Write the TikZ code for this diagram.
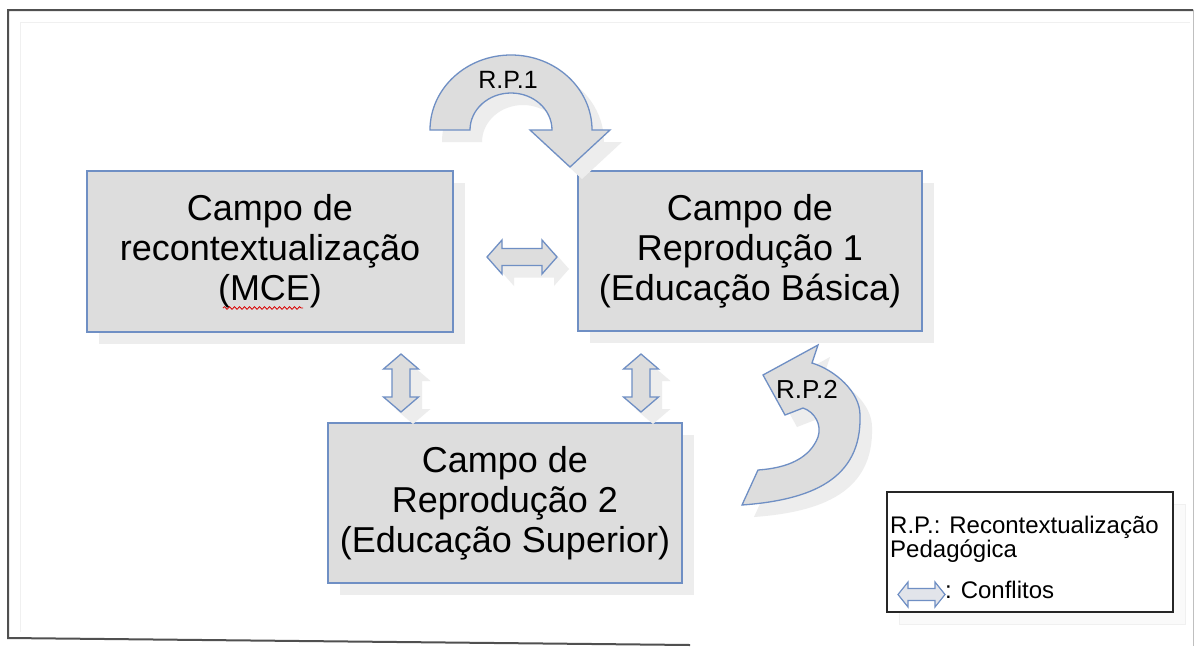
\documentclass[tikz,border=0pt]{standalone}
\usepackage{fontspec}
\setmainfont{Liberation Sans}
\usetikzlibrary{shadows,decorations.pathmorphing}
\definecolor{boxfill}{HTML}{DDDDDD}
\definecolor{boxline}{HTML}{6F8FC4}
\definecolor{shadowgray}{HTML}{EDEDED}
\definecolor{framegray}{HTML}{505050}
\definecolor{legendfill}{HTML}{E2E4EA}
\begin{document}
\begin{tikzpicture}[x=1pt,y=-1pt,
  campo/.style={draw=boxline, line width=1.3pt, fill=boxfill, align=center, inner sep=0pt,
    font=\fontsize{36}{40}\selectfont,
    drop shadow={shadow xshift=12pt, shadow yshift=-12pt, fill=shadowgray, opacity=1}},
  arrowshape/.style={draw=boxline, line width=1.3pt, fill=boxfill, line join=miter},
  shadowshape/.style={fill=shadowgray, draw=none},
  rplabel/.style={anchor=base, inner sep=0pt, font=\fontsize{25}{28}\selectfont},
  legtext/.style={anchor=base west, inner sep=0pt, font=\fontsize{24}{24}\selectfont},
]
\useasboundingbox (0,0) rectangle (1194,646);
\fill[white] (0,0) rectangle (1194,646);

% outer frame
\draw[draw=black!6, line width=1pt] (20,22) -- (1190,22);
\draw[draw=black!6, line width=1pt] (20,22) -- (20,632);
\draw[draw=black!25, line width=1pt] (1193,10) -- (1193,646);
\draw[draw=framegray, line width=2pt] (690,645) -- (8,638) -- (8,10) -- (1193,10);

% boxes
\node[campo, minimum width=366pt, minimum height=161pt] (mce) at (270,251.5)
  {Campo de\\recontextualização\\(MCE)};
\node[campo, minimum width=344pt, minimum height=160pt] (rep1) at (750,251)
  {Campo de\\Reprodução 1\\(Educação Básica)};
\node[campo, minimum width=354pt, minimum height=160pt] (rep2) at (505,503)
  {Campo de\\Reprodução 2\\(Educação Superior)};
\draw[red!85!black, line width=0.8pt, decorate,
  decoration={snake, amplitude=1.3pt, segment length=5pt}] (223,308) -- (303,308);

\foreach \s/\st in {1/shadowshape, 0/arrowshape}{
% horizontal conflict arrow (mce <-> rep1)
\draw[\st, shift={(12*\s,12*\s)}]
  (487,257) -- (502,240) -- (502,248.5) -- (542,248.5) -- (542,240) -- (557,257)
  -- (542,274) -- (542,265.5) -- (502,265.5) -- (502,274) -- cycle;
% vertical left (mce <-> rep2)
\draw[\st, shift={(12*\s,12*\s)}]
  (401,354) -- (418.5,369) -- (410,369) -- (410,397) -- (418.5,397) -- (401,412)
  -- (383.5,397) -- (392,397) -- (392,369) -- (383.5,369) -- cycle;
% vertical right (rep1 <-> rep2)
\draw[\st, shift={(12*\s,12*\s)}]
  (641,354) -- (658.5,369) -- (650,369) -- (650,397) -- (658.5,397) -- (641,412)
  -- (623.5,397) -- (632,397) -- (632,369) -- (623.5,369) -- cycle;
% R.P.1 curved arrow
\draw[\st, shift={(12*\s,12*\s)}]
  (430,130) arc[start angle=180, end angle=360, x radius=81, y radius=75]
  -- (610,130) -- (570,167) -- (530,130) -- (552,130)
  arc[start angle=360, end angle=180, x radius=41, y radius=37] -- cycle;
% R.P.2 curved arrow
\draw[\st, shift={(12*\s,12*\s)}]
  (742,505) .. controls (810,500) and (862,480) .. (860,415)
  .. controls (860,392) and (835,370) .. (812,363)
  -- (818,345) -- (763,375) -- (785,415) -- (803,408)
  .. controls (815,412) and (822,425) .. (818,437)
  .. controls (810,458) and (788,468) .. (758,470) -- cycle;
}

\node[rplabel] (rp1) at (508,88) {R.P.1};
\node[rplabel, font=\fontsize{26}{28}\selectfont] (rp2) at (807,398) {R.P.2};

% legend
\draw[fill=black!2, draw=black!6, line width=1pt] (899,504) rectangle (1185,624);
\node[draw=black!85, line width=1.6pt, fill=white, minimum width=286pt, minimum height=120pt,
  inner sep=0pt] (legend) at (1030,552) {};
\node[legtext] (leg1) at (890,533) {R.P.: Recontextualização};
\node[legtext] (leg2) at (890,557) {Pedagógica};
\draw[draw=boxline, line width=1.2pt, fill=legendfill]
  (898,594.5) -- (908,582) -- (908,588.5) -- (935,588.5) -- (935,582) -- (945,594.5)
  -- (935,607) -- (935,600.5) -- (908,600.5) -- (908,607) -- cycle;
\node[legtext] (leg3) at (945,598) {: Conflitos};
\end{tikzpicture}
\end{document}
